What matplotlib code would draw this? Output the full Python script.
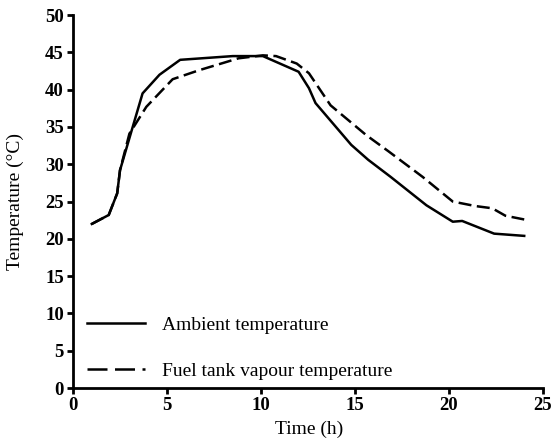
import matplotlib
matplotlib.use("Agg")
import matplotlib.pyplot as plt
from matplotlib.lines import Line2D

amb_t = [1.0, 1.9, 2.35, 2.5, 3.0, 3.7, 4.6, 5.7, 8.5, 10.1, 12.0, 12.55, 12.9, 14.8, 15.7, 16.9, 18.8, 20.2, 20.7, 22.4, 24.0]
amb_T = [22.0, 23.2, 26.1, 29.2, 33.5, 39.5, 42.0, 44.0, 44.5, 44.5, 42.4, 40.2, 38.2, 32.6, 30.6, 28.3, 24.5, 22.3, 22.4, 20.7, 20.4]

fuel_t = [1.0, 1.9, 2.35, 2.5, 3.0, 3.9, 5.3, 6.7, 8.8, 10.1, 10.8, 11.9, 12.55, 13.7, 15.6, 16.8, 18.6, 20.2, 21.4, 22.3, 23.0, 24.0]
fuel_T = [22.0, 23.2, 26.1, 29.2, 34.1, 37.7, 41.4, 42.6, 44.2, 44.6, 44.5, 43.5, 42.2, 37.9, 33.9, 31.7, 28.3, 25.0, 24.4, 24.1, 23.1, 22.6]

labels = ['Ambient temperature', 'Fuel tank vapour temperature']
xticks = [0, 5, 10, 15, 20, 25]
yticks = [0, 5, 10, 15, 20, 25, 30, 35, 40, 45, 50]

plt.rcParams['font.family'] = ['Liberation Serif']
fig = plt.figure(figsize=(5.51, 4.43), dpi=100)
ax = fig.add_axes([0.1325, 0.124, 0.853, 0.842])

ax.plot(amb_t, amb_T, color='black', lw=1.8)
ax.plot(fuel_t, fuel_T, color='black', lw=1.8, linestyle=(0, (5.2, 2.2)))

ax.set_xlim(0, 25)
ax.set_ylim(0, 50)
ax.set_xticks(xticks)
ax.set_yticks(yticks)
for s in ['top', 'right']:
    ax.spines[s].set_visible(False)
for s in ['left', 'bottom']:
    ax.spines[s].set_linewidth(2)
ax.tick_params(direction='out', length=4.5, width=2, labelsize=13.5, pad=2)
for lab in ax.get_xticklabels() + ax.get_yticklabels():
    lab.set_fontweight('bold')
ax.set_xlabel('Time (h)', fontsize=14)
ax.set_ylabel('Temperature (°C)', fontsize=14)
ax.xaxis.set_label_coords(0.502, -0.088)
ax.yaxis.set_label_coords(-0.104, 0.5)

handles = [Line2D([], [], color='black', lw=1.8),
           Line2D([], [], color='black', lw=1.8, linestyle=(0, (8, 3)))]
ax.legend(handles, labels, loc='center left', bbox_to_anchor=(-0.008, 0.107), frameon=False,
          fontsize=14, handlelength=3.0, handletextpad=0.85, labelspacing=1.45,
          borderpad=0.4)

fig.savefig('out.png', dpi=100)
